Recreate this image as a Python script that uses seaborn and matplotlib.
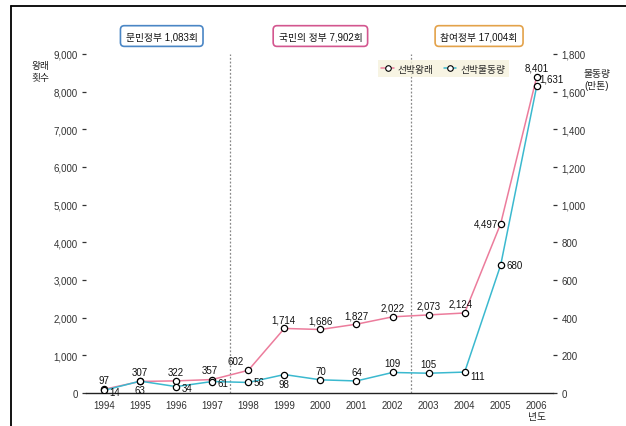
import matplotlib
matplotlib.use("Agg")
import matplotlib.pyplot as plt
import seaborn as sns
import pandas as pd
from matplotlib.lines import Line2D

# Ship traffic (port calls) and cargo volume per year
years = [1994, 1995, 1996, 1997, 1998, 1999, 2000, 2001, 2002, 2003, 2004, 2005, 2006]
calls = [97, 307, 322, 357, 602, 1714, 1686, 1827, 2022, 2073, 2124, 4497, 8401]
cargo = [14, 63, 34, 61, 56, 98, 70, 64, 109, 105, 111, 680, 1631]

# label offsets in points (dx, dy, ha, va)
call_offsets = [(0, 3, "center", "bottom"), (0, 3, "center", "bottom"), (0, 3, "center", "bottom"),
                (-2, 3, "center", "bottom"), (-3, 3, "right", "bottom"), (-1, 3, "center", "bottom"),
                (0, 3, "center", "bottom"), (0, 3, "center", "bottom"), (0, 3, "center", "bottom"),
                (0, 3, "center", "bottom"), (-3, 3, "center", "bottom"), (-2, 0, "right", "center"),
                (0, 3, "center", "bottom")]
cargo_offsets = [(4, -1.5, "left", "center"), (0, -3, "center", "top"), (4, -1, "left", "center"),
                 (4, -1, "left", "center"), (4, 0, "left", "center"), (0, -3, "center", "top"),
                 (0, 3, "center", "bottom"), (0, 3, "center", "bottom"), (0, 3, "center", "bottom"),
                 (0, 3, "center", "bottom"), (4, -3, "left", "center"), (4, 0, "left", "center"),
                 (2, 5, "left", "center")]

eras = ["문민정부 1,083회", "국민의 정부 7,902회", "참여정부 17,004회"]
era_centers = [1995.6, 2000.0, 2004.4]
era_colors = ["#4a86c5", "#d3568f", "#e3a24a"]
era_breaks = [1997.5, 2002.5]

pink = "#ec7c9c"
cyan = "#3bb9cf"
fs = 7

sns.set_style("white")
plt.rcParams["font.family"] = ["Liberation Sans", "Noto Sans CJK KR", "DejaVu Sans"]
plt.rcParams["axes.unicode_minus"] = False

df = pd.DataFrame({"year": years, "calls": calls, "cargo": cargo})

fig = plt.figure(figsize=(6.26, 4.27), dpi=100)
ax = fig.add_axes([86 / 626, 33 / 427, (553 - 86) / 626, 339 / 427])
ax2 = ax.twinx()

sns.lineplot(data=df, x="year", y="calls", ax=ax, color=pink, lw=1.1,
             marker="o", markersize=4.5, markerfacecolor="white",
             markeredgecolor="black", markeredgewidth=0.9, zorder=3)
sns.lineplot(data=df, x="year", y="cargo", ax=ax2, color=cyan, lw=1.1,
             marker="o", markersize=4.5, markerfacecolor="white",
             markeredgecolor="black", markeredgewidth=0.9, zorder=3)

ax.set_xlim(1993.5, 2006.45)
ax.set_ylim(0, 9000)
ax2.set_ylim(0, 1800)

for a in (ax, ax2):
    for s in a.spines.values():
        s.set_visible(False)
    a.set_xlabel("")
    a.set_ylabel("")
ax.spines["bottom"].set_visible(True)
ax.spines["bottom"].set_color("#222222")
ax.spines["bottom"].set_linewidth(1.0)

ax.set_xticks(years)
ax.set_xticklabels([str(y) for y in years], fontsize=fs, color="#333333")
ax.set_xticks([y + 0.5 for y in years[:-1]], minor=True)
ax.tick_params(axis="x", which="major", length=0, pad=5)
ax.tick_params(axis="x", which="minor", direction="in", length=3, color="#222222")

ax.set_yticks(range(0, 9001, 1000))
ax.set_yticklabels([f"{v:,}" for v in range(0, 9001, 1000)], fontsize=fs, color="#333333")
ax.tick_params(axis="y", direction="out", length=3, width=0.9, color="#333333", pad=3)
ax2.set_yticks(range(0, 1801, 200))
ax2.set_yticklabels([f"{v:,}" for v in range(0, 1801, 200)], fontsize=fs, color="#333333")
ax2.tick_params(axis="y", direction="out", length=3, width=0.9, color="#333333", pad=3)

for b in era_breaks:
    ax.axvline(b, color="#888888", lw=0.9, ls=(0, (1.5, 1.5)), zorder=1)

for y, v, (dx, dy, ha, va) in zip(years, calls, call_offsets):
    ax.annotate(f"{v:,}", (y, v), xytext=(dx, dy), textcoords="offset points",
                ha=ha, va=va, fontsize=fs, color="#111111", zorder=5)
for y, v, (dx, dy, ha, va) in zip(years, cargo, cargo_offsets):
    ax2.annotate(f"{v:,}", (y, v), xytext=(dx, dy), textcoords="offset points",
                 ha=ha, va=va, fontsize=fs, color="#111111", zorder=5)

# era banners above the plot
for label, cx, col in zip(eras, era_centers, era_colors):
    ax.text(cx, 1.053, label, transform=ax.get_xaxis_transform(), ha="center", va="center",
            fontsize=fs, color="#111111",
            bbox=dict(boxstyle="round,pad=0.55,rounding_size=0.4", fc="white", ec=col, lw=1.2))

# legend
handles = [Line2D([], [], color=pink, lw=1.1, marker="o", markersize=4,
                  markerfacecolor="white", markeredgecolor="black", markeredgewidth=0.8),
           Line2D([], [], color=cyan, lw=1.1, marker="o", markersize=4,
                  markerfacecolor="white", markeredgecolor="black", markeredgewidth=0.8)]
leg = ax.legend(handles, ["선박왕래", "선박물동량"], ncol=2, loc="center",
                bbox_to_anchor=(0.765, 0.957), frameon=True, fontsize=fs,
                handlelength=1.3, handletextpad=0.4, columnspacing=1.0,
                borderpad=0.35, fancybox=False)
leg.get_frame().set_facecolor("#f5f2dc")
leg.get_frame().set_edgecolor("none")

# axis titles
fig.text(40 / 626, 1 - 72 / 427, "왕래\n횟수", ha="center", va="center", fontsize=fs,
         color="#222222", linespacing=1.3)
fig.text(597 / 626, 1 - 80 / 427, "물동량\n(만톤)", ha="center", va="center", fontsize=fs,
         color="#222222", linespacing=1.3)
fig.text(537 / 626, 1 - 417 / 427, "년도", ha="center", va="center", fontsize=fs,
         color="#222222")

# page frame
fig.add_artist(Line2D([11 / 626, 11 / 626], [0, 1 - 7 / 427], color="black", lw=1.3,
                      transform=fig.transFigure))
fig.add_artist(Line2D([11 / 626, 1], [1 - 7 / 427, 1 - 7 / 427], color="black", lw=1.3,
                      transform=fig.transFigure))

fig.savefig("out.png", dpi=100)
